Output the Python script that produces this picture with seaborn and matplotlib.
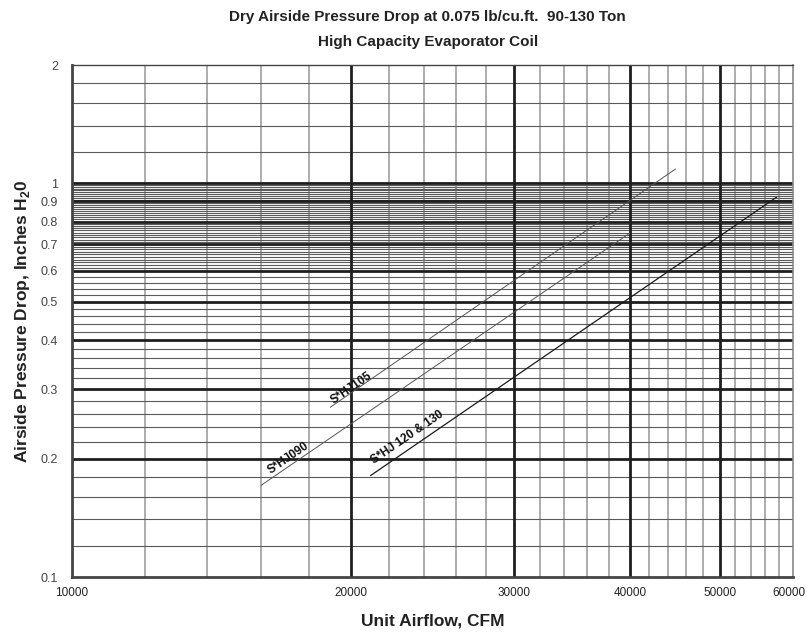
import numpy as np
import pandas as pd
import matplotlib
matplotlib.use("Agg")
import matplotlib.pyplot as plt
import matplotlib.transforms as mtransforms
import seaborn as sns

# coil curves (straight lines on log-log paper)
cfm_090 = [16000, 40000]
dp_090 = [0.171, 0.748]
cfm_105 = [19000, 44800]
dp_105 = [0.270, 1.088]
cfm_120 = [21000, 57600]
dp_120 = [0.181, 0.923]

curve_names = ["S*HJ090", "S*HJ105", "S*HJ 120 & 130"]

x_ticks = [10000, 20000, 30000, 40000, 50000, 60000]
x_tick_labels = ["10000", "20000", "30000", "40000", "50000", "60000"]
y_ticks = [0.1, 0.2, 0.3, 0.4, 0.5, 0.6, 0.7, 0.8, 0.9, 1, 2]
y_tick_labels = ["0.1", "0.2", "0.3", "0.4", "0.5", "0.6", "0.7", "0.8", "0.9", "1", "2"]

# log paper rulings
x_heavy = [20000, 30000, 40000, 50000]
x_light = [12000, 14000, 16000, 18000, 22000, 24000, 26000, 28000,
           32000, 34000, 36000, 38000, 42000, 44000, 46000, 48000,
           52000, 54000, 56000, 58000]
y_heavy = [0.2, 0.3, 0.4, 0.5, 0.6, 0.7, 0.8, 0.9, 1.0]
y_light = (list(np.arange(0.12, 0.595, 0.02))
           + list(np.arange(0.61, 0.995, 0.01))
           + [1.2, 1.4, 1.6, 1.8])
y_light = [v for v in y_light if min(abs(v - h) for h in y_heavy) > 0.004]

sns.set_style("white")
plt.rcParams["font.family"] = ["Liberation Sans Narrow", "Liberation Sans", "DejaVu Sans"]
plt.rcParams["mathtext.fontset"] = "custom"
plt.rcParams["mathtext.rm"] = "Liberation Sans"
plt.rcParams["mathtext.bf"] = "Liberation Sans:bold"

fig = plt.figure(figsize=(8.07, 6.33), dpi=100)
ax = fig.add_axes([72 / 807, 1 - 577 / 633, (793 - 72) / 807, (577 - 65) / 633])

ax.set_xscale("log")
ax.set_yscale("log")

for v in x_light:
    ax.axvline(v, color="#a0a0a0", lw=1.2, zorder=1)
for v in y_light:
    ax.axhline(v, color="#5a5a5a", lw=0.8, zorder=1)
for v in x_heavy:
    ax.axvline(v, color="#1e1e1e", lw=2.0, zorder=2)
for v in y_heavy:
    ax.axhline(v, color="#1e1e1e", lw=2.0, zorder=2)

curves = pd.concat([
    pd.DataFrame({"cfm": cfm_090, "dp": dp_090, "coil": curve_names[0]}),
    pd.DataFrame({"cfm": cfm_105, "dp": dp_105, "coil": curve_names[1]}),
    pd.DataFrame({"cfm": cfm_120, "dp": dp_120, "coil": curve_names[2]}),
])
sns.lineplot(data=curves, x="cfm", y="dp", hue="coil",
             palette={curve_names[0]: "#555555", curve_names[1]: "#555555",
                      curve_names[2]: "#1a1a1a"},
             size="coil", sizes={curve_names[0]: 0.7, curve_names[1]: 0.7,
                                 curve_names[2]: 0.9},
             legend=False, ax=ax, zorder=3)

label_kw = dict(fontsize=8.5, fontweight="bold", family=["Liberation Sans", "DejaVu Sans"],
                rotation=34.5, ha="center", va="center", color="#111", zorder=4)
ax.text(17100, 0.201, curve_names[0], **label_kw)
ax.text(20000, 0.302, curve_names[1], **label_kw)
ax.text(23000, 0.226, curve_names[2], **label_kw)

ax.set_xlim(10000, 60000)
ax.set_ylim(0.1, 2)
ax.set_xticks(x_ticks, labels=x_tick_labels)
ax.set_xticks([], minor=True)
ax.set_yticks(y_ticks, labels=y_tick_labels)
ax.set_yticks([], minor=True)
ax.tick_params(axis="x", length=0, pad=7, labelsize=8.5, labelcolor="#222")
ax.tick_params(axis="y", length=0, pad=10, labelsize=9, labelcolor="#444")

# last x label sits at the right edge of the page, nudge it in a little
last = ax.get_xticklabels()[-1]
last.set_transform(last.get_transform()
                   + mtransforms.ScaledTranslation(-4 / 100, 0, fig.dpi_scale_trans))

for side in ["left", "bottom"]:
    ax.spines[side].set_color("#444")
    ax.spines[side].set_linewidth(2)
ax.spines["top"].set_color("#444")
ax.spines["top"].set_linewidth(1)
ax.spines["right"].set_color("#888")
ax.spines["right"].set_linewidth(1.2)

ax.set_xlabel("Unit Airflow, CFM", fontsize=12.5, fontweight="bold", color="#222", labelpad=11)
ax.set_ylabel(r"Airside Pressure Drop, Inches H$_\mathbf{2}$0", fontsize=12.5,
              fontweight="bold", color="#222", labelpad=6)

fig.text(0.530, 1 - 17 / 633, "Dry Airside Pressure Drop at 0.075 lb/cu.ft.  90-130 Ton",
         ha="center", va="center", fontsize=11, fontweight="bold", color="#222")
fig.text(0.530, 1 - 42 / 633, "High Capacity Evaporator Coil",
         ha="center", va="center", fontsize=11, fontweight="bold", color="#222")

fig.savefig("out.png", dpi=100)
